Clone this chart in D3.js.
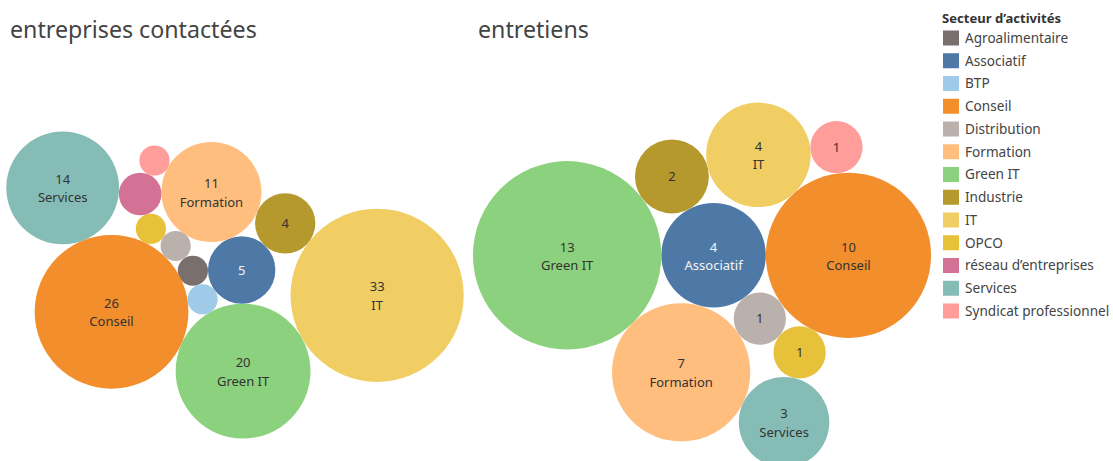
<!DOCTYPE html>
<html>
<head>
<meta charset="utf-8">
<script src="https://cdn.jsdelivr.net/npm/d3@7"></script>
<style>
  body { margin: 0; background: #fff; }
  svg { display: block; font-family: "Noto Sans", "DejaVu Sans", sans-serif; }
</style>
</head>
<body>
<svg id="chart" width="1113" height="461"></svg>
<script>
// Sectors and their colours (legend order)
const sectors = ["Agroalimentaire", "Associatif", "BTP", "Conseil", "Distribution", "Formation",
  "Green IT", "Industrie", "IT", "OPCO", "réseau d’entreprises", "Services", "Syndicat professionnel"];
const sectorColors = ["#79706E", "#4E79A7", "#A0CBE8", "#F28E2B", "#BAB0AC", "#FFBE7D",
  "#8CD17D", "#B6992D", "#F1CE63", "#E8C13A", "#D37295", "#86BCB6", "#FF9D9A"];

// entreprises contactées
const contactSectors = ["IT", "Conseil", "Green IT", "Services", "Formation", "Associatif", "Industrie",
  "réseau d’entreprises", "Syndicat professionnel", "OPCO", "Distribution", "Agroalimentaire", "BTP"];
const contactValues = [33, 26, 20, 14, 11, 5, 4, 2, 1, 1, 1, 1, 1];

// entretiens
const interviewSectors = ["Green IT", "Conseil", "Formation", "Associatif", "IT", "Services",
  "Industrie", "Syndicat professionnel", "Distribution", "OPCO"];
const interviewValues = [13, 10, 7, 4, 4, 3, 2, 1, 1, 1];

// Packing order: each bubble is set tangent to one bubble (at a bearing) or nestled between two.
const contactPacking = [
  { key: "IT" },
  { key: "Green IT", touch: ["IT"], angle: 150.5 },
  { key: "Associatif", touch: ["Green IT"], angle: -90.8 },
  { key: "Industrie", touch: ["IT", "Associatif"], side: 1 },
  { key: "Formation", touch: ["Industrie", "Associatif"], side: 1 },
  { key: "BTP", touch: ["Green IT", "Associatif"], side: -1 },
  { key: "Agroalimentaire", touch: ["Associatif", "BTP"], side: 1 },
  { key: "Conseil", touch: ["Green IT", "BTP"], side: -1 },
  { key: "Distribution", touch: ["Agroalimentaire", "Conseil"], side: 1 },
  { key: "OPCO", touch: ["Distribution", "Conseil"], side: 1 },
  { key: "réseau d’entreprises", touch: ["OPCO", "Formation"], side: -1 },
  { key: "Syndicat professionnel", touch: ["réseau d’entreprises", "Formation"], side: -1 },
  { key: "Services", touch: ["Conseil", "réseau d’entreprises"], side: -1 }
];
const interviewPacking = [
  { key: "Associatif" },
  { key: "Green IT", touch: ["Associatif"], angle: 180 },
  { key: "Conseil", touch: ["Associatif"], angle: 0 },
  { key: "Formation", touch: ["Green IT", "Associatif"], side: 1 },
  { key: "Industrie", touch: ["Green IT", "Associatif"], side: -1 },
  { key: "IT", touch: ["Industrie", "Conseil"], side: -1 },
  { key: "Syndicat professionnel", touch: ["IT", "Conseil"], side: -1 },
  { key: "Distribution", touch: ["Associatif", "Formation"], side: -1 },
  { key: "OPCO", touch: ["Distribution", "Conseil"], side: 1 },
  { key: "Services", touch: ["Formation", "OPCO"], side: 1 }
];

const svg = d3.select("#chart");
const color = d3.scaleOrdinal(sectors, sectorColors);
const darkFill = new Set(["Associatif"]);

function pack(spec, radiusOf) {
  const placed = new Map();
  spec.forEach(s => {
    const r = radiusOf(s.key);
    let x = 0, y = 0;
    if (s.touch && s.touch.length === 1) {
      const a = placed.get(s.touch[0]);
      const t = s.angle * Math.PI / 180;
      x = a.x + (a.r + r) * Math.cos(t);
      y = a.y + (a.r + r) * Math.sin(t);
    } else if (s.touch) {
      const a = placed.get(s.touch[0]), b = placed.get(s.touch[1]);
      const dx = b.x - a.x, dy = b.y - a.y, d = Math.hypot(dx, dy);
      const ra = a.r + r, rb = b.r + r;
      const along = (d * d + ra * ra - rb * rb) / (2 * d);
      const h = Math.sqrt(Math.max(0, ra * ra - along * along));
      const ux = dx / d, uy = dy / d;
      x = a.x + along * ux - s.side * h * uy;
      y = a.y + along * uy + s.side * h * ux;
    }
    placed.set(s.key, { key: s.key, x, y, r });
  });
  return Array.from(placed.values());
}

function drawPanel(title, titleX, names, values, spec, maxRadius, centerX, centerY) {
  const valueOf = new Map(names.map((n, i) => [n, values[i]]));
  const r = d3.scaleSqrt().domain([0, d3.max(values)]).range([0, maxRadius]);
  const nodes = pack(spec, k => r(valueOf.get(k)));
  const x0 = d3.min(nodes, d => d.x - d.r), x1 = d3.max(nodes, d => d.x + d.r);
  const y0 = d3.min(nodes, d => d.y - d.r), y1 = d3.max(nodes, d => d.y + d.r);
  const tx = centerX - (x0 + x1) / 2, ty = centerY - (y0 + y1) / 2;

  svg.append("text")
    .attr("x", titleX).attr("y", 38)
    .attr("font-size", 23.2).attr("fill", "#444")
    .text(title);

  const g = svg.append("g").attr("transform", `translate(${tx},${ty})`);
  const bubble = g.selectAll("g.bubble").data(nodes).join("g")
    .attr("class", "bubble")
    .attr("transform", d => `translate(${d.x},${d.y})`);
  bubble.append("circle")
    .attr("r", d => d.r)
    .attr("fill", d => color(d.key));

  // value label when the bubble is big enough, sector name underneath when it fits too
  bubble.each(function (d) {
    if (d.r < 22) return;
    const node = d3.select(this);
    const fill = darkFill.has(d.key) ? "#f4f4f4" : "#333";
    let fits = false;
    if (d.r >= 40) {
      const name = node.append("text")
        .attr("text-anchor", "middle").attr("font-size", 13).attr("fill", fill)
        .attr("y", 14.6).text(d.key);
      fits = name.node().getComputedTextLength() <= d.r * 1.4;
      if (!fits) name.remove();
    }
    node.append("text")
      .attr("text-anchor", "middle").attr("font-size", 13).attr("fill", fill)
      .attr("y", fits ? -3.8 : 4.6)
      .text(valueOf.get(d.key));
  });
}

drawPanel("entreprises contactées", 10, contactSectors, contactValues, contactPacking, 86.6, 235, 285);
drawPanel("entretiens", 478, interviewSectors, interviewValues, interviewPacking, 94.2, 702, 285);

// Legend
const legend = svg.append("g").attr("transform", "translate(942,0)");
legend.append("text")
  .attr("x", 0).attr("y", 22.5)
  .attr("font-size", 12.8).attr("font-weight", "bold").attr("fill", "#333")
  .attr("textLength", 119).attr("lengthAdjust", "spacingAndGlyphs")
  .text("Secteur d’activités");
const rowStep = 22.75;
const item = legend.selectAll("g.item").data(sectors).join("g")
  .attr("class", "item")
  .attr("transform", (d, i) => `translate(0,${38 + i * rowStep})`);
item.append("rect")
  .attr("x", 1).attr("y", -7.5).attr("width", 16).attr("height", 15)
  .attr("fill", d => color(d));
item.append("text")
  .attr("x", 23).attr("y", 4.8)
  .attr("font-size", 13.6).attr("fill", "#444")
  .text(d => d);
</script>
</body>
</html>
